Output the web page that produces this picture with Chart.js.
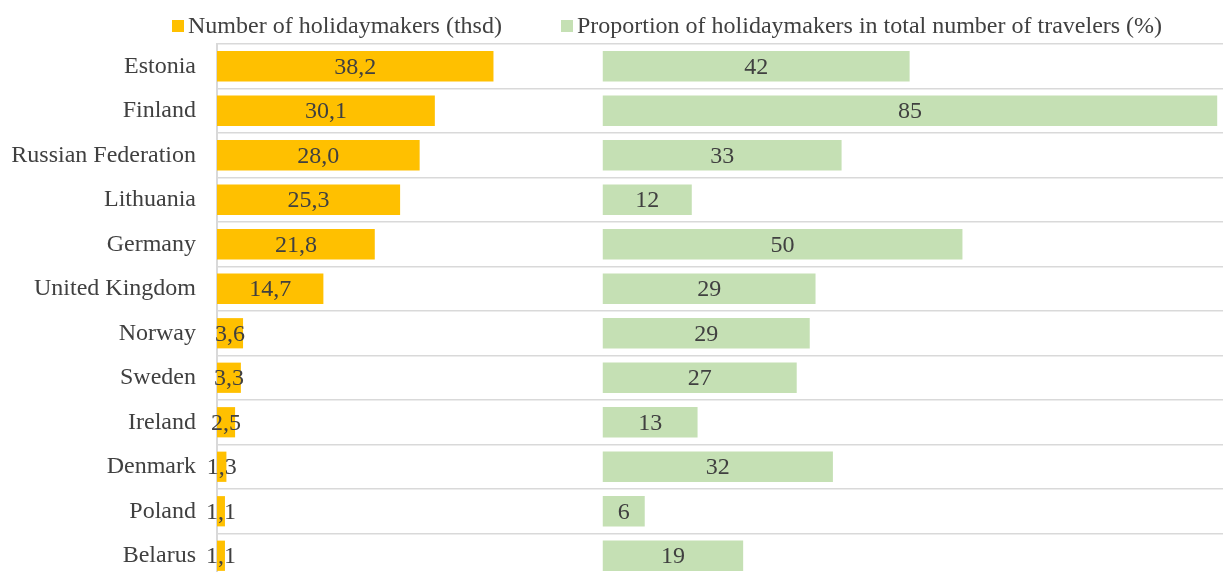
<!DOCTYPE html>
<html>
<head>
<meta charset="utf-8">
<script src="https://cdn.jsdelivr.net/npm/chart.js@4.4.1/dist/chart.umd.min.js"></script>
<style>
  html, body { margin: 0; padding: 0; background: #fff; overflow: hidden; }
  #wrap { position: relative; width: 1223px; height: 572px; overflow: hidden; }
  #legend { position: absolute; left: 172px; top: 12px; display: flex; align-items: center;
    font-family: 'Liberation Serif', 'Times New Roman', serif; font-size: 24px; color: #404040; white-space: nowrap; }
  #legend .item { display: flex; align-items: center; }
  #legend .item + .item { margin-left: 59px; }
  #legend .box { width: 12px; height: 12px; margin-right: 4px; }
  canvas { position: absolute; left: 0; top: 0; }
</style>
</head>
<body>
<div id="wrap">
  <canvas id="holidayChart" width="1223" height="580"></canvas>
  <div id="legend"></div>
</div>
<script>
const countries = ['Estonia', 'Finland', 'Russian Federation', 'Lithuania', 'Germany', 'United Kingdom',
  'Norway', 'Sweden', 'Ireland', 'Denmark', 'Poland', 'Belarus'];
const holidaymakers = [38.2, 30.1, 28.0, 25.3, 21.8, 14.7, 3.6, 3.3, 2.5, 1.3, 1.1, 1.1];
const proportion = [42.4, 84.9, 33.0, 12.3, 49.7, 29.4, 28.6, 26.8, 13.1, 31.8, 5.8, 19.4];
const seriesNames = ['Number of holidaymakers (thsd)', 'Proportion of holidaymakers in total number of travelers (%)'];
const seriesColors = ['#FFC000', '#C5E0B4'];

// where the second series starts on the shared value axis
const GREEN_START = 53.3;
const TEXT_COLOR = '#404040';
const GRID_COLOR = '#d9d9d9';
const FONT = "'Liberation Serif', 'Times New Roman', serif";

const valueLabels = {
  id: 'valueLabels',
  afterDatasetsDraw(chart) {
    const ctx = chart.ctx;
    ctx.save();
    ctx.font = '24px ' + FONT;
    ctx.fillStyle = TEXT_COLOR;
    ctx.textAlign = 'center';
    ctx.textBaseline = 'middle';
    chart.data.datasets.forEach((ds, i) => {
      chart.getDatasetMeta(i).data.forEach((bar, j) => {
        const text = i === 0
          ? holidaymakers[j].toFixed(1).replace('.', ',')
          : String(Math.round(proportion[j]));
        ctx.fillText(text, (bar.x + bar.base) / 2, bar.y + 1);
      });
    });
    ctx.restore();
  }
};

const holidayChart = document.getElementById('holidayChart');
const chart = new Chart(holidayChart, {
  type: 'bar',
  data: {
    labels: countries,
    datasets: [
      {
        label: seriesNames[0],
        data: holidaymakers,
        backgroundColor: seriesColors[0]
      },
      {
        label: seriesNames[1],
        data: proportion.map(v => [GREEN_START, GREEN_START + v]),
        backgroundColor: seriesColors[1]
      }
    ]
  },
  options: {
    indexAxis: 'y',
    responsive: false,
    animation: false,
    datasets: {
      bar: { grouped: false, barPercentage: 0.68, categoryPercentage: 1 }
    },
    layout: { padding: { top: 44, bottom: 2, left: 0, right: 0 } },
    plugins: {
      legend: false,
      tooltip: { enabled: false }
    },
    scales: {
      x: { display: false, min: 0, max: 139 },
      y: {
        grid: { color: GRID_COLOR, lineWidth: 1.5, drawTicks: false, offset: true },
        border: { color: GRID_COLOR, width: 2 },
        ticks: { color: TEXT_COLOR, font: { family: FONT, size: 24 }, padding: 21 },
        afterFit(axis) {
          axis.width = 217;
          axis.paddingTop = 0;
          axis.paddingBottom = 0;
        }
      }
    }
  },
  plugins: [valueLabels]
});

// legend built from the same series names and colours
const legend = document.getElementById('legend');
seriesNames.forEach((name, i) => {
  const item = document.createElement('div');
  item.className = 'item';
  const box = document.createElement('span');
  box.className = 'box';
  box.style.background = seriesColors[i];
  const label = document.createElement('span');
  label.textContent = name;
  item.appendChild(box);
  item.appendChild(label);
  legend.appendChild(item);
});
</script>
</body>
</html>
